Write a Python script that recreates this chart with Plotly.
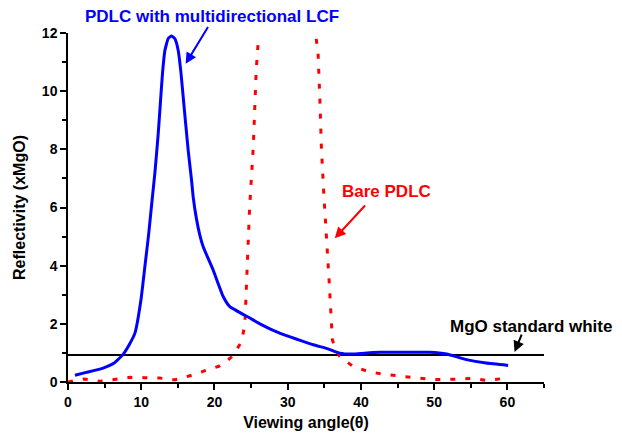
import plotly.graph_objects as go

# Blue: PDLC with multidirectional LCF
lcf_x = [0.95, 2.5, 4.8, 6.3, 7.55, 8.4, 9.14, 9.96, 10.5, 11.0, 11.5, 11.87, 12.32, 12.64, 12.9,
         13.23, 13.7, 14.15, 14.6, 15.05, 15.4, 15.73, 16.41, 16.87, 17.1, 17.55, 18.0, 18.46,
         19.82, 21.19, 22.1, 24.83, 26.2, 28.9, 31.5, 33.5, 35.5, 37.1, 38.9, 40.5, 42.6, 46.0,
         49.4, 51.7, 54.4, 57.1, 60.1]
lcf_y = [0.23, 0.33, 0.48, 0.65, 0.96, 1.3, 1.68, 2.82, 3.97, 5.05, 6.3, 7.2, 8.54, 9.68, 10.6,
         11.4, 11.82, 11.9, 11.8, 11.4, 10.7, 9.8, 7.97, 6.94, 6.35, 5.6, 5.05, 4.65,
         3.85, 2.94, 2.59, 2.2, 2.0, 1.68, 1.45, 1.28, 1.14, 0.99, 0.96, 0.99, 1.02, 1.02,
         1.02, 0.96, 0.77, 0.65, 0.57]

# Red: Bare PDLC (curve leaves the top of the chart between the two branches)
bare_x = [0, 1.0, 2.2, 3.3, 4.3, 5.3, 6.4, 8.5, 10.4, 12.5, 14.0, 14.6, 15.5, 16.4, 17.5, 18.7,
          20.6, 21.6, 22.3, 23.0, 23.7, 24.15, 24.4, 24.6, 24.8, 25.3, 25.7, 26.0,
          None,
          33.9, 34.15, 34.4, 34.6, 34.9, 35.2, 35.4, 35.65, 35.8, 36.0, 36.1, 36.5, 37.1, 38.9,
          41.0, 43.0, 45.1, 47.1, 49.1, 51.1, 53.1, 55.3, 57.2, 59.4, 60.0]
bare_y = [0, 0.06, 0.1, 0.05, 0.03, 0.05, 0.08, 0.16, 0.15, 0.14, 0.08, 0.08, 0.13, 0.19, 0.28, 0.39,
          0.54, 0.7, 0.86, 1.1, 1.39, 1.97, 3.4, 4.54, 6.0, 8.08, 10.71, 11.8,
          None,
          11.8, 11.29, 9.68, 8.08, 6.6, 5.57, 4.54, 3.51, 2.71, 1.91, 1.45, 1.15, 0.88, 0.54,
          0.36, 0.27, 0.22, 0.17, 0.1, 0.08, 0.1, 0.12, 0.05, 0.12, 0.14]

# Black: MgO standard white reference level
mgo_x = [0, 65.5]
mgo_y = [0.93, 0.93]

x_ticks = [0, 10, 20, 30, 40, 50, 60]
y_ticks = [0, 2, 4, 6, 8, 10, 12]

FONT = "Liberation Sans, Arial, sans-serif"

fig = go.Figure()
fig.add_trace(go.Scatter(x=mgo_x, y=mgo_y, mode="lines",
                         line=dict(color="black", width=2), cliponaxis=False))
fig.add_trace(go.Scatter(x=bare_x, y=bare_y, mode="lines", connectgaps=False,
                         line=dict(color="#ff0000", width=3, dash="5px,10px")))
fig.add_trace(go.Scatter(x=lcf_x, y=lcf_y, mode="lines",
                         line=dict(color="#0000ff", width=3, shape="spline", smoothing=0.4)))

def label(text, x, y, color):
    fig.add_annotation(x=x, y=y, xref="paper", yref="paper", text=text, showarrow=False,
                       xanchor="center", yanchor="middle", borderpad=0,
                       font=dict(family=FONT, size=17, color=color, weight="bold"))

def arrow(tx, ty, hx, hy, color):
    fig.add_annotation(x=hx, y=hy, ax=tx, ay=ty, xref="x", yref="y", axref="x", ayref="y",
                       text="", showarrow=True, arrowhead=2, arrowsize=1.1, arrowwidth=2,
                       arrowcolor=color)

label("PDLC with multidirectional LCF", 0.302, 1.046, "#0000ff")
arrow(19.24, 12.26, 16.06, 10.94, "#0000ff")
label("Bare PDLC", 0.670, 0.545, "#ff0000")
arrow(40.75, 6.12, 36.43, 4.94, "#ff0000")
label("MgO standard white", 0.972, 0.160, "black")
arrow(62.03, 1.68, 60.98, 1.03, "black")

axis_common = dict(showgrid=False, zeroline=False, showline=True, linecolor="black", linewidth=1.5,
                   ticks="outside", ticklen=6, tickwidth=1.5, tickcolor="black", automargin=False,
                   tickfont=dict(family=FONT, size=14, color="black", weight="bold"))

fig.update_xaxes(range=[0, 65], tickvals=x_ticks, ticktext=[str(v) for v in x_ticks],
                 minor=dict(ticks="outside", ticklen=4, dtick=5, tickwidth=1.5, tickcolor="black"),
                 title=dict(text="Viewing angle(θ)", standoff=8,
                            font=dict(family=FONT, size=16, color="black", weight="bold")),
                 **axis_common)
fig.update_yaxes(range=[0, 12], tickvals=y_ticks, ticktext=[str(v) for v in y_ticks],
                 minor=dict(ticks="outside", ticklen=4, dtick=1, tickwidth=1.5, tickcolor="black"),
                 title=dict(text="Reflectivity (xMgO)", standoff=12,
                            font=dict(family=FONT, size=16, color="black", weight="bold")),
                 **axis_common)

# The page body adds an 8px offset, so the figure is 8px smaller and the left/top margins 8px less.
fig.update_layout(width=614, height=425, margin=dict(l=60, r=78, t=25, b=51),
                  paper_bgcolor="white", plot_bgcolor="white", showlegend=False,
                  font=dict(family=FONT))

fig.write_html("out.html")
